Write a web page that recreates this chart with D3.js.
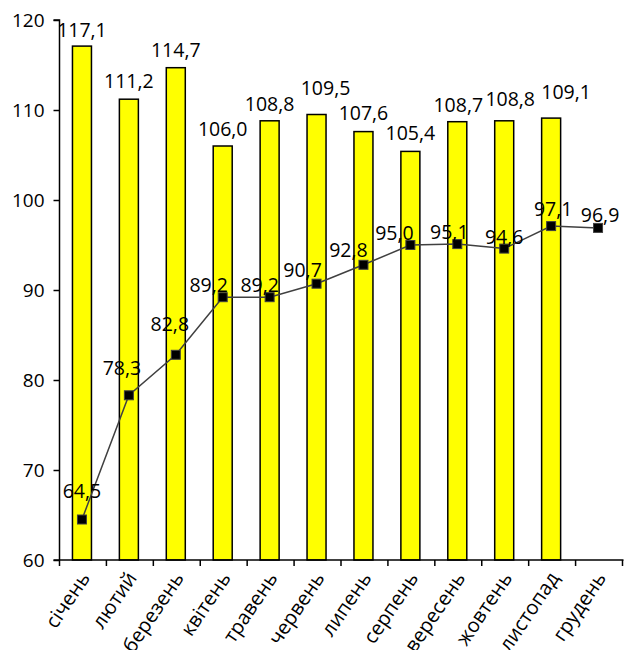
<!DOCTYPE html>
<html>
<head>
<meta charset="utf-8">
<script src="https://cdn.jsdelivr.net/npm/d3@7"></script>
<style>
  html, body { margin: 0; padding: 0; background: #fff; }
  svg text { font-family: "Open Sans", "Noto Sans", sans-serif; fill: #000; }
</style>
</head>
<body>
<svg id="chart" width="624" height="650"></svg>
<script>
// Months of the year
const months = ["січень", "лютий", "березень", "квітень", "травень", "червень",
                "липень", "серпень", "вересень", "жовтень", "листопад", "грудень"];
// Bar series (no value for December)
const barValues = [117.1, 111.2, 114.7, 106.0, 108.8, 109.5, 107.6, 105.4, 108.7, 108.8, 109.1, null];
// Line series
const lineValues = [64.5, 78.3, 82.8, 89.2, 89.2, 90.7, 92.8, 95.0, 95.1, 94.6, 97.1, 96.9];
// Y axis ticks
const yTicks = [60, 70, 80, 90, 100, 110, 120];

// Label nudges (px) so neighbouring labels do not collide
const barLabelDx   = [0, 0, 0, 0, 0, 9, 0, 0, 1, 6, 15, 0];
const barLabelLift = [9, 11, 11, 10, 10, 20, 12, 11, 10, 15, 19, 0];
const lineLabelDx  = [0, -7, -6, -14, -10, -14, -15, -16, -8, 0, 2, 2];
const lineLabelDy  = [-22, -20, -24, -5, -5, -7, -8, -5, -5, -5, -10, -6];

const fmt = v => v.toFixed(1).replace(".", ",");

const svg = d3.select("#chart");
const plot = { left: 59.5, right: 622.5, top: 20, bottom: 560 };

const x = d3.scaleBand().domain(months).range([plot.left, plot.right]).paddingInner(0).paddingOuter(0);
const y = d3.scaleLinear().domain([60, 120]).range([plot.bottom, plot.top]);
const barW = 19;
const cx = i => x(months[i]) + x.bandwidth() / 2 - 1;

const barData = months.map((m, i) => ({ m, i, v: barValues[i] })).filter(d => d.v != null);

// Bars
svg.append("g").selectAll("rect")
  .data(barData)
  .join("rect")
  .attr("x", d => cx(d.i) - barW / 2)
  .attr("y", d => y(d.v))
  .attr("width", barW)
  .attr("height", d => y(60) - y(d.v))
  .attr("fill", "#ffff00")
  .attr("stroke", "#000")
  .attr("stroke-width", 1.5);

// Bar value labels
svg.append("g").selectAll("text")
  .data(barData)
  .join("text")
  .attr("x", d => cx(d.i) + barLabelDx[d.i])
  .attr("y", d => y(d.v) - barLabelLift[d.i])
  .attr("text-anchor", "middle")
  .attr("font-size", 19.5)
  .text(d => fmt(d.v));

// Y axis
const yAxis = svg.append("g")
  .attr("transform", `translate(${plot.left},0)`)
  .call(d3.axisLeft(y).tickValues(yTicks).tickSize(6).tickPadding(9).tickFormat(d3.format("d")));
yAxis.selectAll("path, line").attr("stroke", "#000").attr("stroke-width", 1.5);
yAxis.select(".domain").attr("d", `M-6,${plot.top}H0V${plot.bottom}`);
yAxis.selectAll("text").attr("font-size", 19).attr("dy", "0.35em")
  .style("font-family", "'Open Sans', 'Noto Sans', sans-serif");

// X axis with ticks at category boundaries
const xAxis = svg.append("g").attr("transform", `translate(0,${plot.bottom})`);
xAxis.append("line")
  .attr("x1", plot.left - 6).attr("x2", plot.right + 1)
  .attr("stroke", "#000").attr("stroke-width", 1.5);
xAxis.selectAll("line.tick")
  .data(months.map(m => x(m)).concat([plot.right]))
  .join("line")
  .attr("class", "tick")
  .attr("x1", d => d).attr("x2", d => d)
  .attr("y1", 0).attr("y2", 6)
  .attr("stroke", "#000").attr("stroke-width", 1.5);
xAxis.selectAll("text")
  .data(months)
  .join("text")
  .attr("transform", d => `translate(${x(d) + x.bandwidth() / 2 + 2},14) rotate(-56)`)
  .attr("text-anchor", "end")
  .attr("dy", "0.35em")
  .attr("font-size", 20)
  .text(d => d);

// Line series
svg.append("path")
  .datum(lineValues)
  .attr("d", d3.line().x((d, i) => cx(i)).y(d => y(d)))
  .attr("fill", "none")
  .attr("stroke", "#404040")
  .attr("stroke-width", 1.5);

const ms = 9;
svg.append("g").selectAll("rect")
  .data(lineValues)
  .join("rect")
  .attr("x", (d, i) => cx(i) - ms / 2)
  .attr("y", d => y(d) - ms / 2)
  .attr("width", ms).attr("height", ms)
  .attr("fill", "#000")
  .attr("stroke", "#404040")
  .attr("stroke-width", 1);

svg.append("g").selectAll("text")
  .data(lineValues)
  .join("text")
  .attr("x", (d, i) => cx(i) + lineLabelDx[i])
  .attr("y", (d, i) => y(d) + lineLabelDy[i])
  .attr("text-anchor", "middle")
  .attr("font-size", 19.5)
  .text(d => fmt(d));
</script>
</body>
</html>
